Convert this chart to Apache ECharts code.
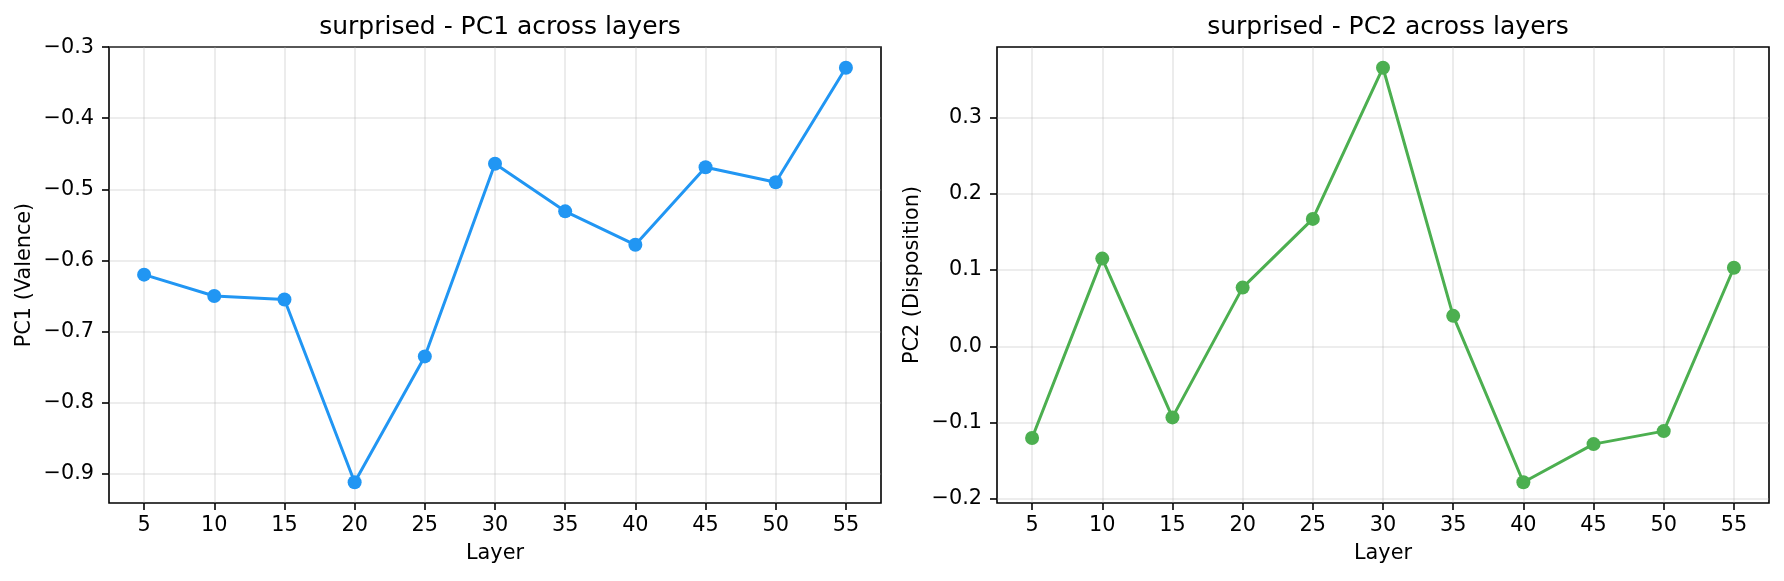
<!DOCTYPE html>
<html>
<head>
<meta charset="utf-8">
<title>surprised - PC1 / PC2 across layers</title>
<script src="https://cdn.jsdelivr.net/npm/echarts@6/dist/echarts.min.js"></script>
<style>
    html, body { margin: 0; padding: 0; background: #fff; }
    #chart { width: 1784px; height: 581px; }
</style>
</head>
<body>
<div id="chart"></div>
<script>
        // data
        var layers = [5, 10, 15, 20, 25, 30, 35, 40, 45, 50, 55];
        var pc1Values = [-0.620, -0.650, -0.655, -0.912, -0.735, -0.464, -0.531, -0.578, -0.469, -0.490, -0.329];
        var pc2Values = [-0.120, 0.115, -0.093, 0.077, 0.167, 0.365, 0.040, -0.178, -0.128, -0.111, 0.103];
        var xTicks = [5, 10, 15, 20, 25, 30, 35, 40, 45, 50, 55];
        var pc1Ticks = [-0.9, -0.8, -0.7, -0.6, -0.5, -0.4, -0.3];
        var pc2Ticks = [-0.2, -0.1, 0.0, 0.1, 0.2, 0.3];
        var titles = ["surprised - PC1 across layers", "surprised - PC2 across layers"];
        var yNames = ["PC1 (Valence)", "PC2 (Disposition)"];
        var xName = "Layer";

        var FONT = "DejaVu Sans";
        var AXIS_COLOR = "#000";
        var plotLeft = [109, 997];
        var plotTop = 47;
        var plotW = 772;
        var plotH = 456;

        //matplotlib style 5% margins
        function padRange(arr){
            var mn = Math.min.apply(null, arr);
            var mx = Math.max.apply(null, arr);
            var p = (mx - mn) * 0.05;
            return [mn - p, mx + p];
        }
        function fmtY(v){
            var s = Math.abs(v) < 1e-9 ? "0.0" : v.toFixed(1);
            return s.replace("-", "\u2212");
        }
        function pairs(xs, ys){
            var out = [];
            for (var i = 0; i < xs.length; i++) out.push([xs[i], ys[i]]);
            return out;
        }
        //grid lines made from the tick lists
        function gridLines(xt, yt){
            var d = [];
            xt.forEach(function(v){ d.push({xAxis: v}); });
            yt.forEach(function(v){ d.push({yAxis: v}); });
            return d;
        }

        var xRange = padRange(layers);
        var ranges = [padRange(pc1Values), padRange(pc2Values)];
        var yTickSets = [pc1Ticks, pc2Ticks];
        var valueSets = [pc1Values, pc2Values];
        var colors = ["#2196F3", "#4CAF50"];

        var option = {
            animation: false,
            backgroundColor: "#fff",
            title: [],
            grid: [],
            xAxis: [],
            yAxis: [],
            series: []
        };

        for (var i = 0; i < 2; i++) {
            option.title.push({
                text: titles[i],
                left: plotLeft[i] + plotW / 2,
                top: 10,
                textAlign: "center",
                textStyle: { fontFamily: FONT, fontSize: 25, fontWeight: "normal", color: "#000" }
            });
            option.grid.push({
                left: plotLeft[i], top: plotTop, width: plotW, height: plotH,
                show: true, borderColor: AXIS_COLOR, borderWidth: 1.6, backgroundColor: "transparent"
            });
            option.xAxis.push({
                type: "value",
                gridIndex: i,
                min: xRange[0],
                max: xRange[1],
                name: xName,
                nameLocation: "middle",
                nameGap: 40,
                nameTextStyle: { fontFamily: FONT, fontSize: 20.8, color: "#000" },
                axisLine: { show: false, onZero: false },
                axisTick: { show: true, customValues: xTicks, length: 7, lineStyle: { color: AXIS_COLOR, width: 1.6 } },
                axisLabel: { customValues: xTicks, margin: 12, color: "#000", fontFamily: FONT, fontSize: 20.8,
                    formatter: function(v){ return String(v); } },
                splitLine: { show: false }
            });
            option.yAxis.push({
                type: "value",
                gridIndex: i,
                min: ranges[i][0],
                max: ranges[i][1],
                name: yNames[i],
                nameLocation: "middle",
                nameRotate: 90,
                nameGap: 74,
                nameTextStyle: { fontFamily: FONT, fontSize: 20.8, color: "#000" },
                axisLine: { show: false, onZero: false },
                axisTick: { show: true, customValues: yTickSets[i], length: 7, lineStyle: { color: AXIS_COLOR, width: 1.6 } },
                axisLabel: { customValues: yTickSets[i], margin: 15, color: "#000", fontFamily: FONT, fontSize: 20.8,
                    formatter: fmtY },
                splitLine: { show: false }
            });
            option.series.push({
                type: "line",
                xAxisIndex: i,
                yAxisIndex: i,
                data: pairs(layers, valueSets[i]),
                symbol: "circle",
                symbolSize: 14,
                showAllSymbol: true,
                z: 3,
                lineStyle: { color: colors[i], width: 3 },
                itemStyle: { color: colors[i] },
                emphasis: { disabled: true },
                markLine: {
                    silent: true,
                    z: 1,
                    symbol: ["none", "none"],
                    label: { show: false },
                    lineStyle: { color: "#b0b0b0", opacity: 0.3, width: 1.6, type: "solid" },
                    emphasis: { disabled: true },
                    data: gridLines(xTicks, yTickSets[i])
                }
            });
        }

        var chart = echarts.init(document.getElementById("chart"), null, { renderer: "canvas" });
        chart.setOption(option);
</script>
</body>
</html>
